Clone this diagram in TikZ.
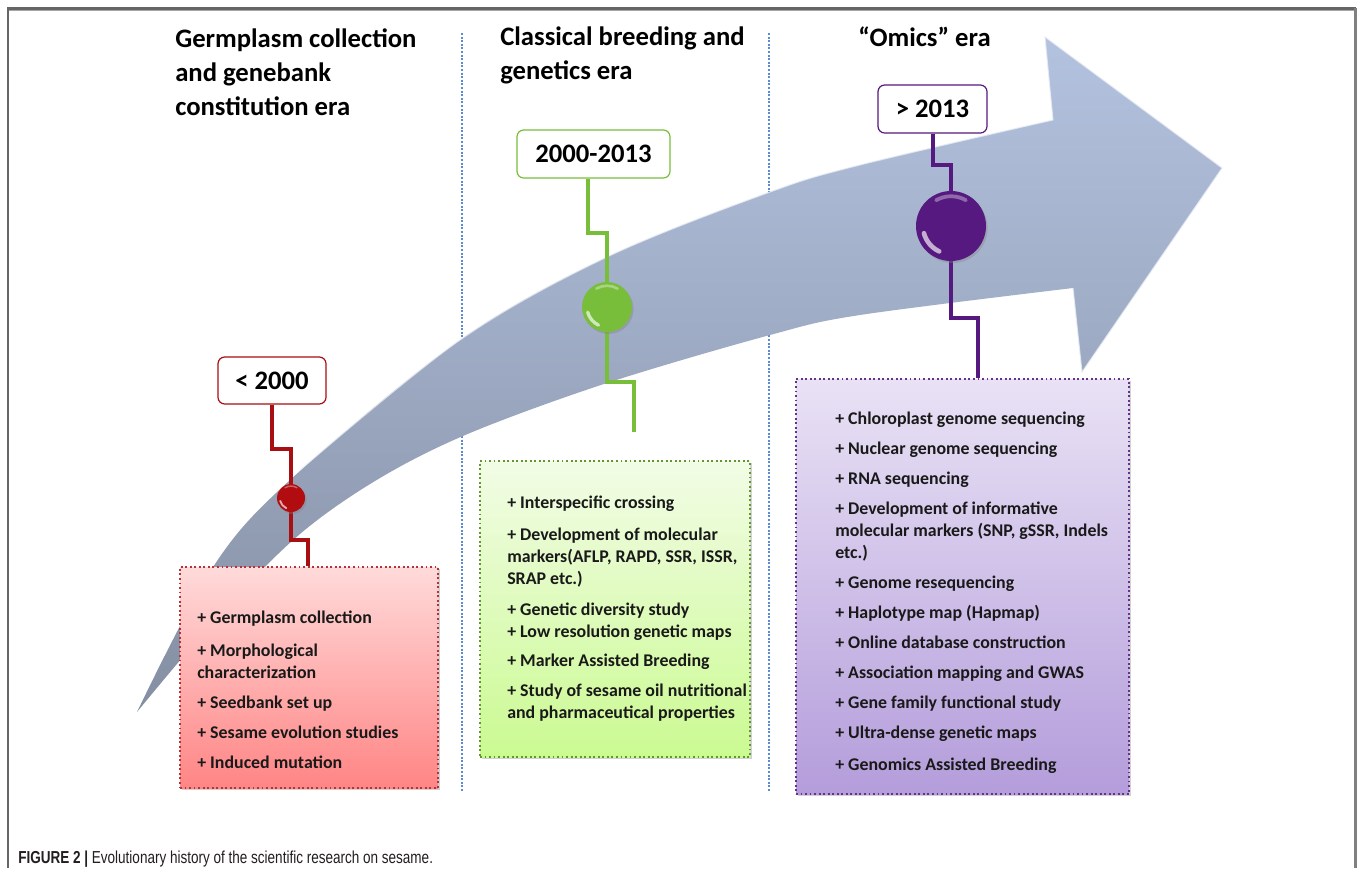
\documentclass[tikz,border=0pt]{standalone}
\usepackage{fontspec}
\setmainfont{Carlito}
\newfontfamily\capfont[FakeStretch=0.78]{Liberation Sans}
\usetikzlibrary{shadows,fit,calc}
\definecolor{redc}{HTML}{A80F12}
\definecolor{greenc}{HTML}{78BE3A}
\definecolor{purplec}{HTML}{56197F}
\definecolor{arrowtop}{HTML}{B3C2DF}
\definecolor{arrowbot}{HTML}{858FA3}
\definecolor{sepblue}{HTML}{5B8BD3}
\definecolor{captext}{HTML}{231F20}
\definecolor{redtop}{HTML}{FFDADA}
\definecolor{redbot}{HTML}{FF8585}
\definecolor{greentop}{HTML}{F2FCE6}
\definecolor{greenbot}{HTML}{CBFA92}
\definecolor{purptop}{HTML}{E9E2F5}
\definecolor{purpbot}{HTML}{B49DDB}
\tikzset{
  heading/.style={font=\fontsize{20pt}{25.5pt}\selectfont\bfseries, align=left, anchor=base west, inner sep=0},
  yearbox/.style={draw, line width=0.9pt, rounded corners=5pt, fill=white, font=\fontsize{20pt}{24pt}\selectfont\bfseries, inner sep=0},
  listbox/.style={dotted, line width=1.4pt, inner sep=0,
     drop shadow={shadow xshift=1.5pt, shadow yshift=-1.8pt, opacity=0.35}},
  listtext/.style={font=\fontsize{13.4pt}{16.5pt}\selectfont\bfseries, align=left, anchor=base west, inner sep=0, text=black!90},
  conn/.style={line width=2.4pt, line join=miter},
  ball/.style={circle, inner sep=0, drop shadow={shadow xshift=1.2pt, shadow yshift=-1.5pt, opacity=0.35}},
  sep/.style={sepblue, line width=0.8pt, dash pattern=on 1.5pt off 1.2pt},
}
\begin{document}
\begin{tikzpicture}[x=0.75pt,y=-0.75pt]
\useasboundingbox (0,0) rectangle (1360,868);
\fill[white] (0,0) rectangle (1360,868);

% frame
\draw[black!60, line width=1.6pt] (8,868) -- (8,8.5) -- (1355.5,8.5);
\draw[black!35, line width=0.8pt] (9,10.5) -- (1354,10.5);
\draw[black!50, line width=1.8pt] (1355.5,8) -- (1355.5,868);

% separators
\draw[sep] (462,33) -- (462,792);
\draw[sep] (769,33) -- (769,792);

% big curved arrow
\shade[top color=arrowtop, bottom color=arrowbot]
  plot[smooth, tension=0.55] coordinates {(137,712) (213,567) (290,480) (460,340) (607,257) (770,192) (860,165) (1053,120)}
  -- (1045,37) -- (1222,168) -- (1082,372) -- (1073,288)
  -- plot[smooth, tension=0.55] coordinates {(1073,288) (860,315) (770,335) (607,383) (470,433) (380,478) (300,534) (220,614) (137,712)}
  -- cycle;
\draw[white!70!arrowtop, line width=0.8pt, opacity=0.8]
  plot[smooth, tension=0.55] coordinates {(300,470) (460,340) (607,257) (770,192) (860,165) (1053,120)}
  -- (1045,37) -- (1222,168) -- (1082,372) -- (1073,288);

% headings (anchor = baseline of last line)
\node[heading] (h1) at (175,115) {Germplasm collection\\and genebank\\constitution era};
\node[heading] (h2) at (500,79) {Classical breeding and\\genetics era};
\node[heading] (h3) at (858,46) {“Omics” era};

% year boxes
\node[yearbox, draw=redc, minimum width=108*0.75pt, minimum height=47*0.75pt] (y1) at (272,380.5) {< 2000};
\node[yearbox, draw=greenc, minimum width=153*0.75pt, minimum height=48*0.75pt] (y2) at (593.5,154) {2000-2013};
\node[yearbox, draw=purplec, minimum width=109*0.75pt, minimum height=48*0.75pt] (y3) at (932.5,109) {> 2013};

% list boxes
\node[listbox, fit={(180,567) (438,788)}, draw=redc!85, top color=redtop, bottom color=redbot] (b1) {};
\node[listbox, fit={(480,461) (750,757)}, draw=greenc!80!black, top color=greentop, bottom color=greenbot] (b2) {};
\node[listbox, fit={(796,379) (1129,794)}, draw=purplec!90, top color=purptop, bottom color=purpbot] (b3) {};

% connector bend points and ball centres
\coordinate (r1) at (272,449); \coordinate (r2) at (291,449); \coordinate (cc1) at (291,498);
\coordinate (r3) at (291,540); \coordinate (r4) at (308,540);
\coordinate (g1) at (588,233); \coordinate (g2) at (607,233); \coordinate (cc2) at (607,307);
\coordinate (g3) at (607,382); \coordinate (g4) at (634,382); \coordinate (g5) at (634,432);
\coordinate (p1) at (933,165); \coordinate (p2) at (951,165); \coordinate (cc3) at (951,226);
\coordinate (p3) at (951,318); \coordinate (p4) at (978,318);

% connectors
\draw[conn, redc] (y1.south) -- (r1) -- (r2) -- (cc1) -- (r3) -- (r4) -- (r4 |- b1.north);
\draw[conn, greenc] (y2.south -| g1) -- (g1) -- (g2) -- (cc2) -- (g3) -- (g4) -- (g5);
\draw[conn, purplec] (y3.south -| p1) -- (p1) -- (p2) -- (cc3) -- (p3) -- (p4) -- (p4 |- b3.north);

% balls
\node[ball, fill=redc!90!red, minimum size=28*0.75pt] (c1) at (cc1) {};
\node[ball, fill=greenc, minimum size=50*0.75pt] (c2) at (cc2) {};
\node[ball, fill=purplec, minimum size=70*0.75pt] (c3) at (cc3) {};

% ball highlights
\foreach \c/\r in {c1/14, c2/25, c3/35} {
  \draw[white, opacity=0.65, line width=\r*0.1pt, line cap=round]
    ($(\c.center)+(115:0.8*\r)$) arc[start angle=115, end angle=165, radius=0.8*\r];
  \draw[white, opacity=0.35, line width=\r*0.08pt, line cap=round]
    ($(\c.center)+(240:0.85*\r)$) arc[start angle=240, end angle=300, radius=0.85*\r];
}

% list texts (anchor = baseline of last line)
\node[listtext] (t1) at (197,768) {+ Germplasm collection\\[8pt]
+ Morphological\\characterization\\[6pt]
+ Seedbank set up\\[6pt]
+ Sesame evolution studies\\[6pt]
+ Induced mutation};

\node[listtext] (t2) at (507,718) {+ Interspecific crossing\\[7pt]
+ Development of molecular\\markers(AFLP, RAPD, SSR, ISSR,\\SRAP etc.)\\[7pt]
+ Genetic diversity study\\
+ Low resolution genetic maps\\[5.5pt]
+ Marker Assisted Breeding\\[5.5pt]
+ Study of sesame oil nutritional\\and pharmaceutical properties};

\node[listtext] (t3) at (835,770) {+ Chloroplast genome sequencing\\[6pt]
+ Nuclear genome sequencing\\[6pt]
+ RNA sequencing\\[6pt]
+ Development of informative\\molecular markers (SNP, gSSR, Indels\\etc.)\\[6pt]
+ Genome resequencing\\[6pt]
+ Haplotype map (Hapmap)\\[6pt]
+ Online database construction\\[6pt]
+ Association mapping and GWAS\\[6pt]
+ Gene family functional study\\[6pt]
+ Ultra-dense genetic maps\\[7.5pt]
+ Genomics Assisted Breeding};

% caption
\node[anchor=base west, inner sep=0, text=captext, font=\capfont\fontsize{13pt}{15pt}\selectfont] (cap) at (18,863)
  {\textbf{FIGURE 2 |} Evolutionary history of the scientific research on sesame.};
\end{tikzpicture}
\end{document}
